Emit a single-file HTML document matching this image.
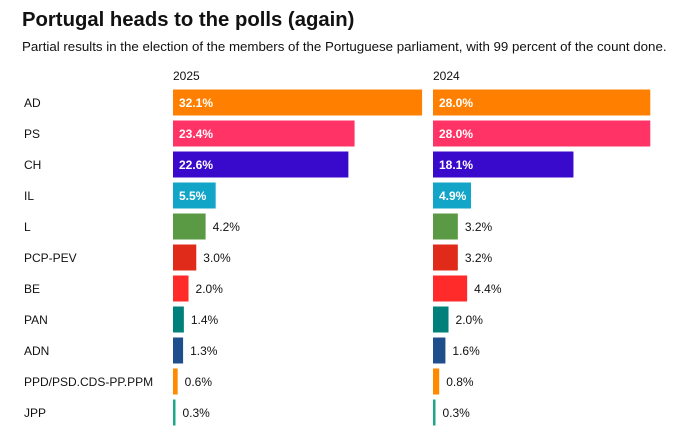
<!DOCTYPE html>
<html><head><meta charset="utf-8"><style>
body{margin:0;background:#fff;font-family:"Liberation Sans",sans-serif;}
svg text{font-family:"Liberation Sans",sans-serif;}
</style></head><body>
<svg width="689" height="437">
<text x="22" y="26" font-size="20.3" font-weight="bold" fill="#111">Portugal heads to the polls (again)</text>
<text x="22" y="51" font-size="13.3" fill="#111">Partial results in the election of the members of the Portuguese parliament, with 99 percent of the count done.</text>
<text x="173" y="80" font-size="12" fill="#111">2025</text>
<text x="433" y="80" font-size="12" fill="#111">2024</text>
<g id="rows"></g>
</svg>
<script>
const parties=["AD","PS","CH","IL","L","PCP-PEV","BE","PAN","ADN","PPD/PSD.CDS-PP.PPM","JPP"];
const values2025=[32.1,23.4,22.6,5.5,4.2,3.0,2.0,1.4,1.3,0.6,0.3];
const values2024=[28.0,28.0,18.1,4.9,3.2,3.2,4.4,2.0,1.6,0.8,0.3];
const colors=["#ff8000","#ff3366","#3a0acc","#12a5c8","#5a9a44","#e02a1a","#ff2a2a","#00807a","#1f4e8c","#ff8a00","#1aa78a"];
const ns="http://www.w3.org/2000/svg";
const g=document.getElementById('rows');
const scale=v=>v*7.76;
const rowY=i=>89.5+i*31;
function mk(t,a){const e=document.createElementNS(ns,t);for(const k in a)e.setAttribute(k,a[k]);g.appendChild(e);return e;}
parties.forEach((p,i)=>{
  const y=rowY(i);
  const lab=mk('text',{x:24,y:y+17.5,'font-size':12,fill:'#111'});
  lab.textContent=p;
  
  
  [[173,values2025,'2025'],[433,values2024,'2024']].forEach(([x0,vals,yr])=>{
    const v=vals[i];const w=Math.max(scale(v),2.5);
    const r=mk('rect',{x:x0,y:y,width:w,height:26,fill:colors[i]});
    
    
    const inside=v>=4.5;
    const t=mk('text',{x:inside?x0+6:x0+w+7,y:y+17.5,'font-size':12,'font-weight':inside?'bold':'normal',fill:inside?'#fff':'#111'});
    t.textContent=v.toFixed(1)+'%';
    
    
  });
});
</script>
</body></html>
